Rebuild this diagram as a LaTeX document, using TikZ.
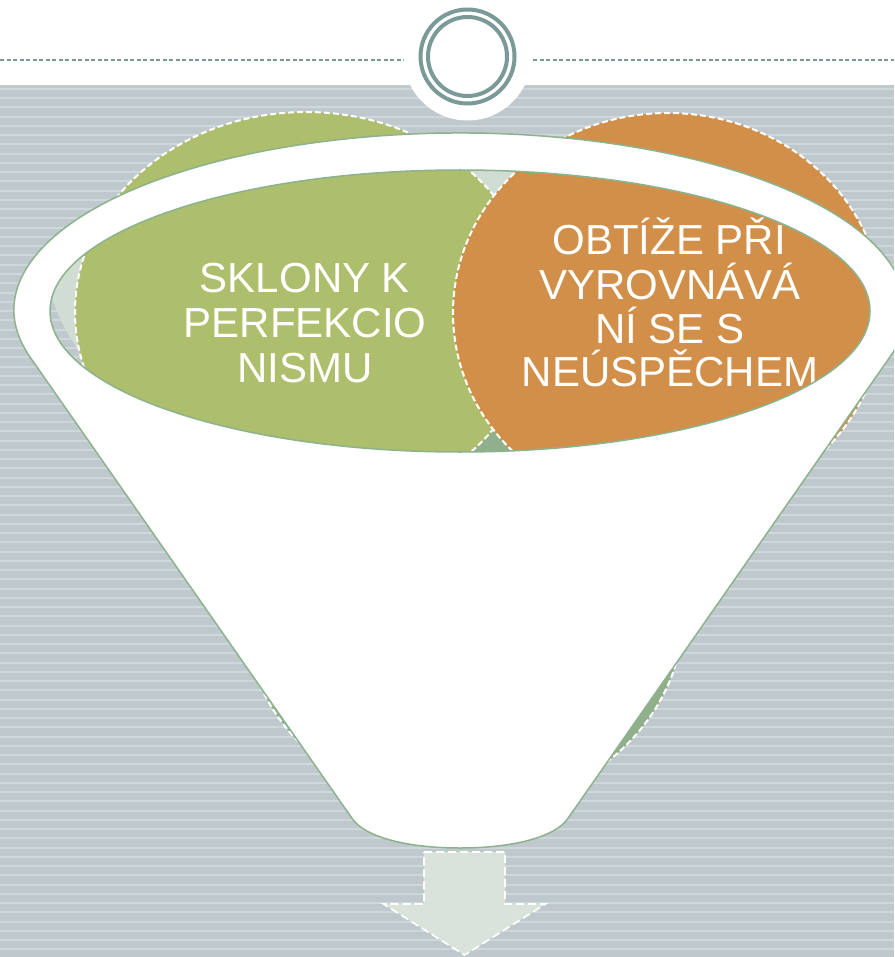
\documentclass[tikz,border=0pt]{standalone}
\usepackage{fontspec}
\setmainfont{Liberation Sans}
\definecolor{bgc}{HTML}{BEC8CD}
\definecolor{stripec}{HTML}{CFD7DB}
\definecolor{ringc}{HTML}{7A9A97}
\definecolor{greenc}{HTML}{ADBE6C}
\definecolor{orangec}{HTML}{D18F49}
\definecolor{darkc}{HTML}{8FB08A}
\definecolor{lightc}{HTML}{D1DCD3}
\definecolor{funnelc}{HTML}{8CB28E}
\definecolor{arrowc}{HTML}{DAE3DA}
\begin{document}
\begin{tikzpicture}[x=1pt,y=-1pt,
  circ/.style={draw=white, line width=2pt, dash pattern=on 6pt off 3pt},
  lbl/.style={text=white, font=\fontsize{42pt}{44pt}\selectfont, anchor=base, inner sep=0pt},
  funnelline/.style={draw=funnelc, line width=1.5pt},
  ring/.style={draw=ringc, line width=4pt},
  stripe/.style={draw=stripec, line width=2pt},
  toprule/.style={draw=ringc, line width=1.5pt, dash pattern=on 4pt off 2.5pt},
  arrowshape/.style={fill=arrowc, draw=white, line width=1.7pt, dash pattern=on 8pt off 4pt}
]
\useasboundingbox (0,0) rectangle (894,957);
\clip (0,0) rectangle (894,957);
% background
\fill[white] (0,0) rectangle (894,957);
\fill[bgc] (0,85) rectangle (894,957);
\foreach \i in {0,...,94} \draw[stripe] (0,{89+\i*9.25}) -- (894,{89+\i*9.25});
% top dashed line and emblem
\draw[toprule] (0,60) -- (894,60);
\node[circle, fill=white, minimum size=128pt, inner sep=0pt] (emblem) at (467.5,56.5) {};
\draw[ring] (emblem.center) circle[radius=47pt];
\draw[ring] (emblem.center) circle[radius=39.5pt];
% light shape inside the opening
\begin{scope}
\clip (460,311) ellipse[x radius=410pt, y radius=141pt];
\fill[lightc] (295,250) ellipse[x radius=250pt, y radius=200pt];
\end{scope}
% circles
\path[circ, fill=darkc] (464,610) ellipse[x radius=220pt, y radius=200pt];
\path[circ, fill=greenc] (306,312) ellipse[x radius=231pt, y radius=200pt];
\path[circ, fill=orangec] (668,313) ellipse[x radius=215pt, y radius=200pt];
% texts
\node[lbl] (g1) at (305,292) {SKLONY K};
\node[lbl] (g2) at (305,337) {PERFEKCIO};
\node[lbl] (g3) at (305,382) {NISMU};
\node[lbl] (o1) at (669,255) {OBTÍŽE PŘI};
\node[lbl] (o2) at (670,299) {VYROVNÁVÁ};
\node[lbl] (o3) at (670,343) {NÍ SE S};
\node[lbl] (o4) at (670,386) {NEÚSPĚCHEM};
% funnel
\path[funnelline, fill=white, even odd rule]
  (30.2,357.3) arc[start angle=195.5, end angle=-15.5, x radius=446pt, y radius=177pt]
  -- (568.2,818) .. controls (555,838) and (510,848) .. (460,848)
  .. controls (410,848) and (365,838) .. (351.8,818) -- cycle
  (460,311) ellipse[x radius=410pt, y radius=141pt];
% arrow
\path[arrowshape] (424,852) -- (505,852) -- (505,904) -- (545.5,904) -- (464.5,955) -- (383.5,904) -- (424,904) -- cycle;
\end{tikzpicture}
\end{document}
